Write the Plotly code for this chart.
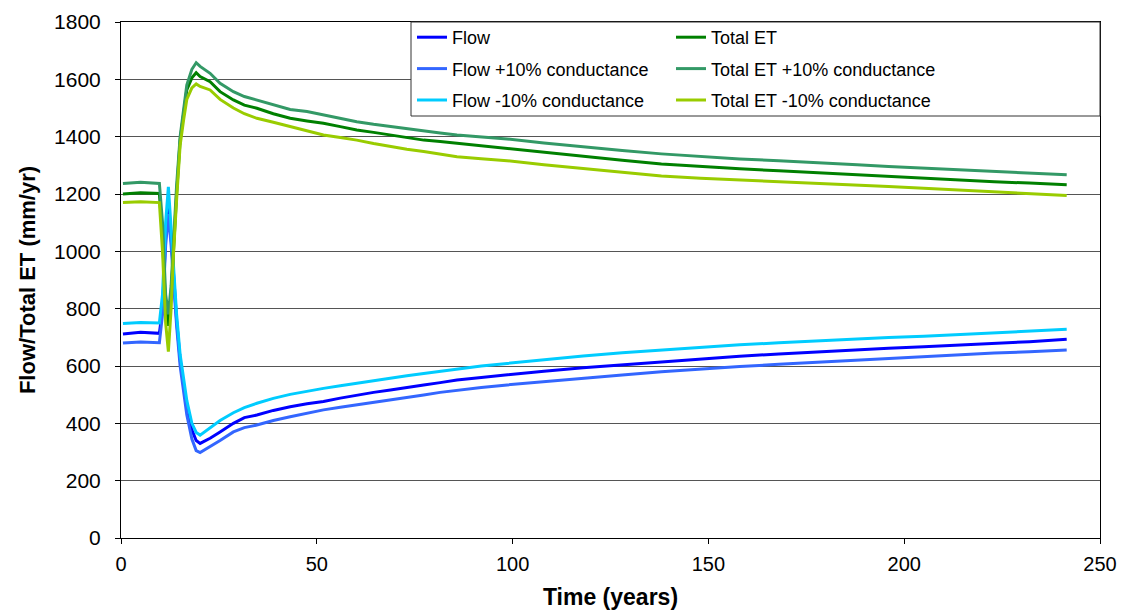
import plotly.graph_objects as go

time_years = [0.5, 5, 9.8, 10.6, 11.4, 12.1, 12.8, 13.4, 14.2, 15.1, 16.0, 16.8, 18.1, 19.2, 20.2,
              22.75, 25.3, 28.7, 31.5, 34.7, 38.9, 43.2, 47.5, 51.7, 56, 60.2, 64.5, 68.8, 73, 77.3,
              81.5, 85.8, 92, 98.6, 108, 118, 128, 138, 148, 158, 168, 178, 188, 196, 205, 214.5,
              223, 232, 241.5]

flow = [712, 718, 714, 800, 1050, 1170, 1050, 924, 760, 621, 530, 458, 377, 340, 330,
        348, 370, 400, 420, 429, 445, 458, 468, 476, 488, 499, 508, 516, 526, 534,
        542, 551, 560, 570, 582, 594, 604, 615, 625, 634, 642, 650, 656, 662, 667, 673,
        679, 685, 693]

flow_plus10 = [680, 684, 681, 780, 1020, 1130, 1020, 900, 740, 600, 500, 430, 345, 305, 298,
               318, 340, 370, 385, 394, 410, 423, 435, 447, 456, 464, 473, 481, 490, 499,
               508, 516, 525, 534, 546, 558, 569, 580, 590, 598, 606, 613, 620, 626, 633, 641,
               645, 650, 656]

flow_minus10 = [748, 752, 750, 850, 1100, 1225, 1080, 940, 780, 640, 550, 480, 400, 368, 359,
                383, 410, 437, 455, 470, 487, 501, 512, 522, 531, 540, 549, 557, 566, 574,
                582, 590, 600, 609, 622, 635, 646, 656, 666, 674, 681, 688, 694, 699, 704, 710,
                716, 721, 728]

total_et = [1200, 1204, 1202, 1050, 800, 740, 850, 1016, 1200, 1388, 1480, 1563, 1605, 1623, 1610,
            1592, 1557, 1528, 1510, 1499, 1480, 1464, 1455, 1447, 1435, 1423, 1415, 1406, 1397, 1388,
            1383, 1377, 1368, 1357, 1345, 1330, 1318, 1305, 1296, 1288, 1281, 1274, 1266, 1260, 1255,
            1249, 1243, 1238, 1232]

total_et_plus10 = [1237, 1241, 1237, 1100, 850, 780, 880, 1040, 1230, 1400, 1500, 1580, 1635, 1658, 1645,
                   1621, 1586, 1557, 1540, 1528, 1510, 1495, 1488, 1476, 1465, 1452, 1443, 1435, 1427, 1420,
                   1413, 1406, 1400, 1392, 1378, 1364, 1352, 1340, 1330, 1322, 1316, 1310, 1302, 1296, 1290,
                   1284, 1278, 1272, 1267]

total_et_minus10 = [1170, 1173, 1170, 1000, 750, 650, 800, 990, 1180, 1370, 1460, 1530, 1570, 1584, 1575,
                    1563, 1530, 1500, 1480, 1464, 1450, 1435, 1420, 1406, 1397, 1388, 1376, 1365, 1356, 1348,
                    1339, 1330, 1323, 1316, 1302, 1289, 1276, 1263, 1255, 1249, 1244, 1239, 1232, 1226, 1220,
                    1214, 1208, 1202, 1195]

x_ticks = [0, 50, 100, 150, 200, 250]
y_ticks = [0, 200, 400, 600, 800, 1000, 1200, 1400, 1600, 1800]

flow_series = [
    ("Flow", flow, "#0000FF"),
    ("Flow +10% conductance", flow_plus10, "#3366FF"),
    ("Flow -10% conductance", flow_minus10, "#00CCFF"),
]
et_series = [
    ("Total ET", total_et, "#008000"),
    ("Total ET +10% conductance", total_et_plus10, "#339966"),
    ("Total ET -10% conductance", total_et_minus10, "#99CC00"),
]

fig = go.Figure()
for name, vals, color in flow_series:
    fig.add_trace(go.Scatter(x=time_years, y=vals, name=name, mode="lines", legend="legend",
                             legendgroup=name, line=dict(color=color, width=3)))
for name, vals, color in et_series:
    fig.add_trace(go.Scatter(x=time_years, y=vals, name=name, mode="lines", legend="legend2",
                             legendgroup=name, line=dict(color=color, width=3)))

FONT = "Liberation Sans, Arial, sans-serif"
PW = 979.0
PH = 516.0

# legend box (white background with border)
fig.add_shape(type="rect", xref="paper", yref="paper",
              x0=(411 - 121) / PW, x1=1.0, y0=(538 - 116) / PH, y1=1.0,
              fillcolor="white", line=dict(color="#333333", width=1), layer="above")

leg_common = dict(orientation="v", xanchor="left", yanchor="top", bgcolor="rgba(0,0,0,0)",
                  borderwidth=0, font=dict(size=18, family=FONT), itemwidth=30,
                  tracegroupgap=5)

fig.update_layout(
    width=1127, height=613,
    margin=dict(l=121, r=27, t=22, b=75),
    paper_bgcolor="white", plot_bgcolor="white",
    font=dict(family=FONT, color="black"),
    showlegend=True,
    legend=dict(x=(412 - 121) / PW, y=1.0 + 3 / PH, **leg_common),
    legend2=dict(x=(671 - 121) / PW, y=1.0 + 3 / PH, **leg_common),
    xaxis=dict(range=[0, 250], tickvals=x_ticks, ticks="outside", ticklen=5, tickcolor="black",
               showline=True, linecolor="black", linewidth=1, mirror=True, showgrid=False,
               zeroline=False, tickfont=dict(size=20), ticklabelstandoff=3, automargin=False,
               title=dict(text="<b>Time (years)</b>", font=dict(size=23), standoff=14)),
    yaxis=dict(range=[0, 1800], tickvals=y_ticks, ticks="outside", ticklen=5, tickcolor="black",
               showline=True, linecolor="black", linewidth=1, mirror=True, showgrid=True,
               gridcolor="#555555", gridwidth=1, zeroline=False, tickfont=dict(size=21),
               ticklabelstandoff=10, automargin=False,
               title=dict(text="<b>Flow/Total ET (mm/yr)</b>", font=dict(size=22), standoff=12)),
)

fig.write_html("out.html")
